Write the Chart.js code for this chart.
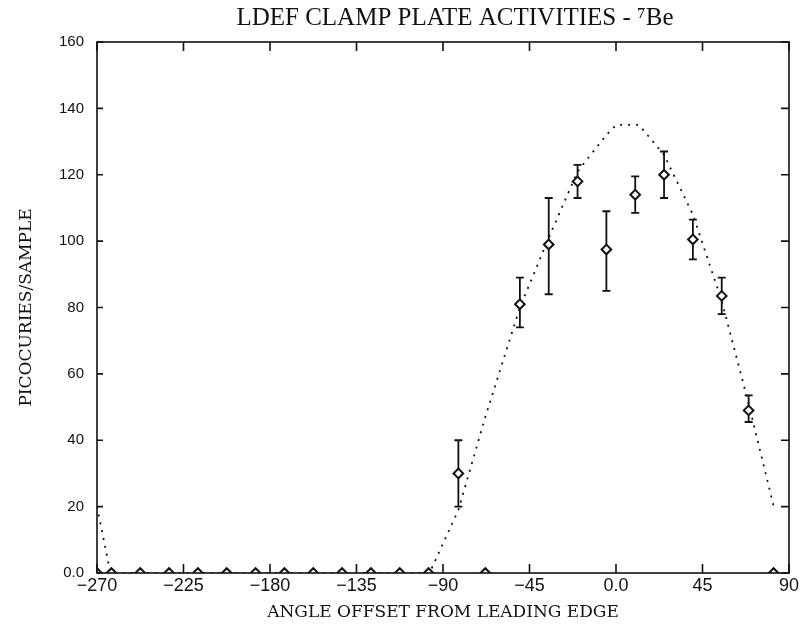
<!DOCTYPE html>
<html>
<head>
<meta charset="utf-8">
<title>LDEF Clamp Plate Activities - 7Be</title>
<script src="https://cdn.jsdelivr.net/npm/chart.js@4.4.1/dist/chart.umd.min.js"></script>
<style>
  html, body { margin: 0; padding: 0; background: #fff; }
  #wrap { width: 802px; height: 628px; }
</style>
</head>
<body>
<div id="wrap"><canvas id="beChart" width="802" height="628"></canvas></div>
<script>
  "use strict";

  // Measured activities (angle offset in deg, pCi/sample)
  const angles = [-270, -262.5, -247.5, -232.5, -217.5, -202.5, -187.5, -172.5, -157.5, -142.5, -127.5, -112.5, -97.5,
    -82, -68, -50, -35, -20, -5, 10, 25, 40, 55, 69, 82];
  const activity = [0, 0, 0, 0, 0, 0, 0, 0, 0, 0, 0, 0, 0,
    30, 0, 81, 99, 118, 97.5, 114, 120, 100.5, 83.5, 49, 0];
  // error bar ends (null = no bar)
  const errTop = [null, null, null, null, null, null, null, null, null, null, null, null, null,
    40, null, 89, 113, 123, 109, 119.5, 127, 106.5, 89, 53.5, null];
  const errBottom = [null, null, null, null, null, null, null, null, null, null, null, null, null,
    20, null, 74, 84, 113, 85, 108.5, 113, 94.5, 78, 45.5, null];

  // Calculated profile (dotted curve)
  const modelAngles = [-270, -263, -97, -82, -68, -50, -35, -20, -5, 0, 12, 25, 40, 55, 69, 82.5];
  const modelActivity = [20, 0, 0, 19, 47, 80, 101, 121, 132, 135, 135, 126, 108, 82, 51, 19];

  // Axis ticks
  const xTicks = [-270, -225, -180, -135, -90, -45, 0, 45, 90];
  const yTicks = [0, 20, 40, 60, 80, 100, 120, 140, 160];

  const ink = "#111";

  function fmtTick(value) {
    if (value === 0) return "0.0";
    if (value < 0) return "\u2212" + Math.abs(value);
    return String(value);
  }

  // Error bars, drawn under the diamonds
  const errorBars = {
    id: "errorBars",
    beforeDatasetsDraw(chart) {
      const c = chart.ctx;
      const xs = chart.scales.x;
      const ys = chart.scales.y;
      c.save();
      c.strokeStyle = ink;
      c.lineWidth = 1.8;
      angles.forEach(function (a, i) {
        if (errTop[i] === null) return;
        const px = xs.getPixelForValue(a);
        const top = ys.getPixelForValue(errTop[i]);
        const bot = ys.getPixelForValue(errBottom[i]);
        c.beginPath();
        c.moveTo(px, top);
        c.lineTo(px, bot);
        c.moveTo(px - 4, top);
        c.lineTo(px + 4, top);
        c.moveTo(px - 4, bot);
        c.lineTo(px + 4, bot);
        c.stroke();
      });
      c.restore();
    }
  };

  // Box frame with inward tick marks on all four sides
  const frame = {
    id: "frame",
    afterDatasetsDraw(chart) {
      const c = chart.ctx;
      const a = chart.chartArea;
      const xs = chart.scales.x;
      const ys = chart.scales.y;
      c.save();
      c.strokeStyle = ink;
      c.lineWidth = 1.6;
      c.strokeRect(a.left, a.top, a.right - a.left, a.bottom - a.top);
      c.beginPath();
      xTicks.forEach(function (v) {
        const px = xs.getPixelForValue(v);
        c.moveTo(px, a.bottom);
        c.lineTo(px, a.bottom - 9);
        c.moveTo(px, a.top);
        c.lineTo(px, a.top + 9);
      });
      yTicks.forEach(function (v) {
        const py = ys.getPixelForValue(v);
        c.moveTo(a.left, py);
        c.lineTo(a.left + 6, py);
        c.moveTo(a.right, py);
        c.lineTo(a.right - 8, py);
      });
      c.stroke();
      c.restore();
    }
  };

  // Title, placed a little right of the plot centre as in the original
  const plotTitle = {
    id: "plotTitle",
    afterDraw(chart) {
      const c = chart.ctx;
      const a = chart.chartArea;
      c.save();
      c.fillStyle = ink;
      c.font = "25px 'Liberation Serif', 'DejaVu Serif', serif";
      c.textAlign = "center";
      c.textBaseline = "middle";
      c.fillText("LDEF CLAMP PLATE ACTIVITIES - \u2077Be", (a.left + a.right) / 2 + 12, 18);
      c.restore();
    }
  };

  let ctx = document.getElementById("beChart").getContext("2d");
  let beChart = new Chart(ctx, {
    type: "scatter",
    data: {
      datasets: [
        {
          label: "Calculated",
          type: "line",
          data: modelAngles.map(function (a, i) {
            return { x: a, y: modelActivity[i] };
          }),
          borderColor: ink,
          borderWidth: 1.8,
          borderDash: [2, 6],
          pointRadius: 0,
          fill: false,
          tension: 0,
          order: 2,
        },
        {
          label: "Measured",
          data: angles.map(function (a, i) {
            return { x: a, y: activity[i] };
          }),
          pointStyle: "rectRot",
          pointRadius: 4.8,
          pointBorderWidth: 2,
          pointBackgroundColor: "#fff",
          pointBorderColor: ink,
          showLine: false,
          order: 1,
        },
      ],
    },
    options: {
      responsive: false,
      animation: false,
      layout: { padding: { top: 42, right: 13, left: 0, bottom: 0 } },
      plugins: {
        legend: { display: false },
        tooltip: { enabled: false },
        title: { display: false },
      },
      scales: {
        x: {
          type: "linear",
          min: -270,
          max: 90,
          afterBuildTicks: function (s) {
            s.ticks = xTicks.map(function (v) { return { value: v }; });
          },
          afterFit: function (s) { s.height = 55; },
          grid: { display: false, drawTicks: false },
          border: { display: false },
          ticks: {
            color: ink,
            font: { family: "'Liberation Sans', Arial, sans-serif", size: 18 },
            padding: 2,
            maxRotation: 0,
            autoSkip: false,
            callback: fmtTick,
          },
          title: {
            display: true,
            text: "ANGLE OFFSET FROM LEADING EDGE",
            color: ink,
            font: { family: "'DejaVu Serif', serif", size: 17 },
            padding: { top: 0, bottom: 5 },
          },
        },
        y: {
          type: "linear",
          min: 0,
          max: 160,
          afterBuildTicks: function (s) {
            s.ticks = yTicks.map(function (v) { return { value: v }; });
          },
          afterFit: function (s) { s.width = 97; },
          grid: { display: false, drawTicks: false },
          border: { display: false },
          ticks: {
            color: ink,
            font: { family: "'Liberation Sans', Arial, sans-serif", size: 15 },
            padding: 13,
            autoSkip: false,
            callback: fmtTick,
          },
          title: {
            display: true,
            text: "PICOCURIES/SAMPLE",
            color: ink,
            font: { family: "'DejaVu Serif', serif", size: 17 },
            padding: { top: 16, bottom: 0 },
          },
        },
      },
    },
    plugins: [errorBars, frame, plotTitle],
  });
</script>
</body>
</html>
